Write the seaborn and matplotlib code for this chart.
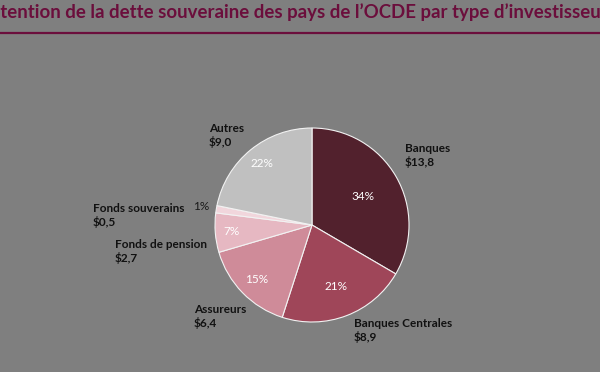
import numpy as np
import matplotlib
matplotlib.use("Agg")
import matplotlib.pyplot as plt
import seaborn as sns

sns.set_style("white")
plt.rcParams['font.family'] = ['Lato', 'DejaVu Sans']

# Data
categories = ["Banques", "Banques Centrales", "Assureurs", "Fonds de pension",
              "Fonds souverains", "Autres"]
values = [13.8, 8.9, 6.4, 2.7, 0.5, 9.0]
value_labels = ["$13,8", "$8,9", "$6,4", "$2,7", "$0,5", "$9,0"]
pct_labels = ["34%", "21%", "15%", "7%", "1%", "22%"]

colors = ["#52212d", "#9f4659", "#cf8b99", "#e6b8c2", "#f1d6dc", "#c0c0c0"]
bg = "#7f7f7f"
title_col = "#6b0e3c"

fig = plt.figure(figsize=(6, 3.72), dpi=100, facecolor=bg)
ax = fig.add_axes([0, 0, 1, 1])
ax.set_facecolor(bg)
ax.set_xlim(0, 600)
ax.set_ylim(0, 372)
ax.set_aspect("equal")
ax.axis("off")

cx, cy, r = 312, 147, 97
wedges, _ = ax.pie(values, colors=colors, startangle=90, counterclock=False,
                   center=(cx, cy), radius=r,
                   wedgeprops=dict(edgecolor="#f2f2f2", linewidth=0.8))
ax.set_xlim(0, 600)
ax.set_ylim(0, 372)

# percentage labels, distance from centre as fraction of radius
pct_dist = [0.6, 0.68, 0.8, 0.83, 1.16, 0.82]
for w, lab, d in zip(wedges, pct_labels, pct_dist):
    ang = np.deg2rad((w.theta1 + w.theta2) / 2)
    col = "#1a1a1a" if d > 1 else "white"
    ax.text(cx + d * r * np.cos(ang), cy + d * r * np.sin(ang), lab,
            ha="center", va="center", color=col, fontsize=8.5)

# category labels
label_pos = [(405, 372 - 143), (354, 372 - 318), (194, 372 - 304),
             (115, 372 - 239), (93, 372 - 203), (209, 372 - 123)]
for (x, y), name, v in zip(label_pos, categories, value_labels):
    ax.text(x, y, f"{name}\n{v}", ha="left", va="top", color="#111111",
            fontsize=8.5, fontweight="bold", linespacing=1.2)

# title, cut at the left edge like the original
title = "Détention de la dette souveraine des pays de l\u2019OCDE par type d\u2019investisseurs"
tsize = 13.4
t = fig.text(0, 1 - 18 / 372, title, ha="left", va="baseline", color=title_col,
             fontsize=tsize, fontweight="bold")
renderer = fig.canvas.get_renderer()
pre = fig.text(0, 0, "Dé", fontsize=tsize, fontweight="bold")
off = pre.get_window_extent(renderer).width
pre.remove()
t.set_x(-off / 600)

ax.plot([0, 600], [372 - 33, 372 - 33], color=title_col, lw=1.6)

fig.savefig("out.png", dpi=100, facecolor=bg)
